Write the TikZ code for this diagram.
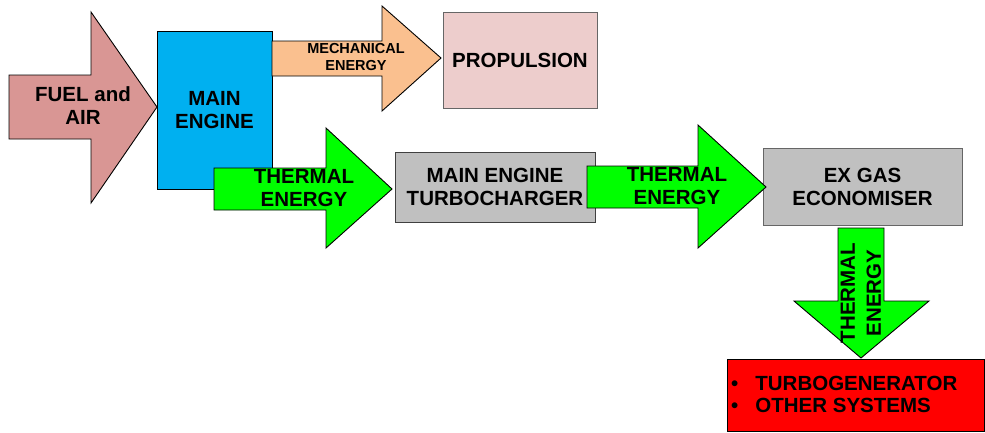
\documentclass[tikz,border=0pt]{standalone}
\usepackage{fontspec}
\setmainfont{Liberation Sans}
\usepackage{tikz}
\usetikzlibrary{positioning}
\definecolor{fuelx}{HTML}{D99694}
\definecolor{enginex}{HTML}{00B0F0}
\definecolor{mechx}{HTML}{FAC08F}
\definecolor{propx}{HTML}{EDCDCC}
\definecolor{greyx}{HTML}{C0C0C0}
\definecolor{heatx}{HTML}{00FF00}
\definecolor{redx}{HTML}{FF0000}
\tikzset{
  edge/.style={draw=black,line width=0.9pt},
  box/.style={edge,align=center,inner sep=0pt,font=\bfseries\fontsize{20.5}{23}\selectfont},
  lbl/.style={align=center,inner sep=0pt,font=\bfseries\fontsize{20.5}{23}\selectfont},
  sml/.style={align=center,inner sep=0pt,font=\bfseries\fontsize{14.5}{17}\selectfont},
  heat/.style={edge,fill=heatx}
}
\begin{document}
\begin{tikzpicture}[x=1pt,y=-1pt]
\useasboundingbox (0,0) rectangle (985,432);
% fuel and air
\draw[edge,fill=fuelx] (9,75)--(91,75)--(91,12)--(157,107)--(91,203)--(91,139)--(9,139)--cycle;
\node[lbl] (fuel) at (83,106) {FUEL and\\AIR};
% boxes
\node[box,fill=enginex,minimum width=115,minimum height=158] (engine) at (214.5,110) {MAIN\\ENGINE};
\draw[edge,fill=mechx] (272,41)--(382,41)--(382,6)--(441,58)--(382,111)--(382,76)--(272,76)--cycle;
\node[sml] (mech) at (356,57.5) {MECHANICAL\\ENERGY};
\node[box,draw=black!60,fill=propx,minimum width=154,minimum height=96] (prop) at (520,60) {PROPULSION};
\node[box,draw=black!75,fill=greyx,minimum width=200,minimum height=70] (turbo) at (495,187) {MAIN ENGINE\\TURBOCHARGER};
\node[box,draw=black!60,fill=greyx,minimum width=199,minimum height=77] (exgas) at (862.5,186.5) {EX GAS\\ECONOMISER};
% thermal energy
\draw[heat] (214,168)--(326,168)--(326,128)--(392,189)--(326,248)--(326,210)--(214,210)--cycle;
\node[lbl] (heatA) at (304,188) {THERMAL\\ENERGY};
\draw[heat] (587,166)--(698,166)--(698,125)--(766,187)--(698,248)--(698,208)--(587,208)--cycle;
\node[lbl] (heatB) at (677,186) {THERMAL\\ENERGY};
\draw[heat] (838,228)--(884,228)--(884,301)--(929,301)--(861,358)--(794,301)--(838,301)--cycle;
\node[lbl,rotate=90,font=\bfseries\fontsize{20.5}{26}\selectfont] (heatC) at (861,293) {THERMAL\\ENERGY};
% users
\draw[edge,fill=redx] (727,359) rectangle (984.5,431.5);
\node[lbl,align=left,anchor=west,font=\bfseries\fontsize{20.5}{22}\selectfont] (users) at (731,394) {\textbullet\hspace{17pt}TURBOGENERATOR\\\textbullet\hspace{17pt}OTHER SYSTEMS};
\end{tikzpicture}
\end{document}
